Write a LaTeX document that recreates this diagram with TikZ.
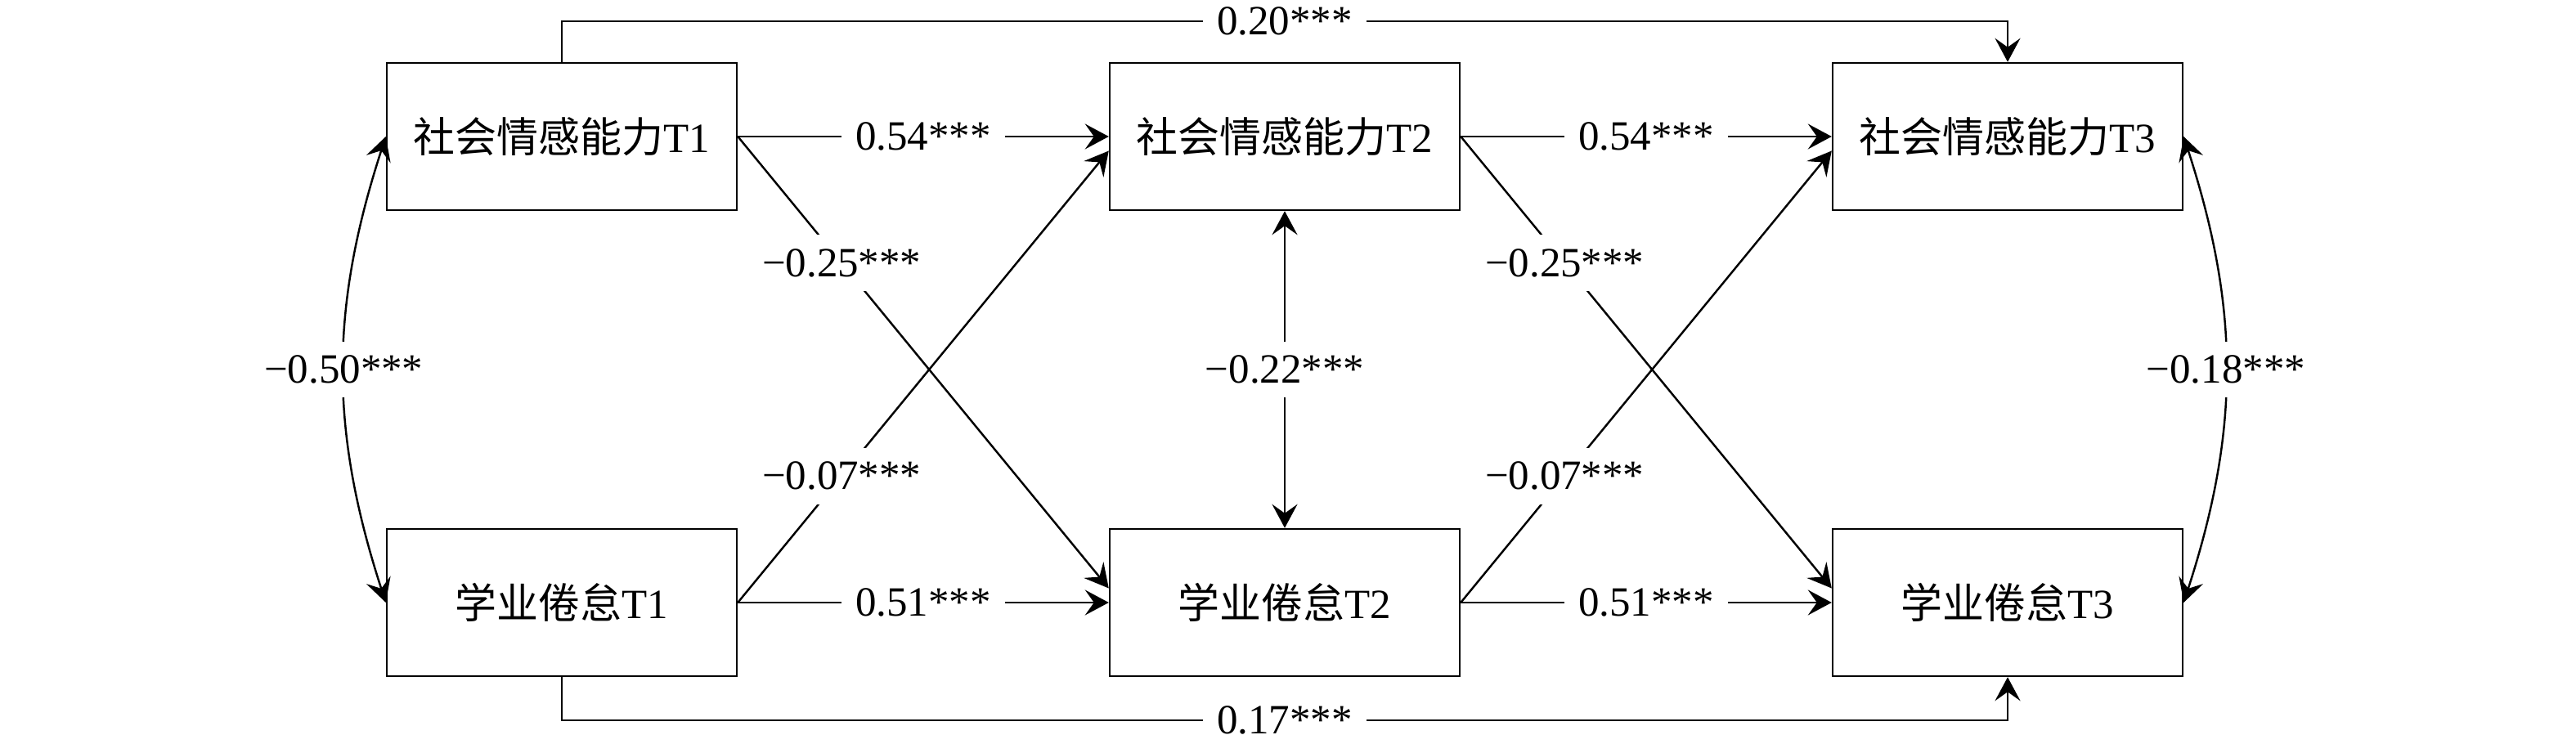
\documentclass[tikz,border=0pt]{standalone}
\usepackage{fontspec}
\setmainfont{Liberation Serif}
\newfontfamily\cjk{Noto Sans CJK SC}
\usetikzlibrary{arrows.meta}
\tikzstyle{box}=[draw,minimum width=4.28cm,minimum height=1.8cm,inner sep=0pt]
\tikzstyle{coef}=[fill=white,inner sep=1.7mm]

\begin{document}
\begin{tikzpicture}[node distance=8.84cm,line width=0.7pt,>={Stealth[length=2.9mm,width=3.1mm,inset=1.1mm]},font=\fontsize{14.5pt}{17pt}\selectfont]
	\useasboundingbox (0,0) rectangle (31.5,-9.1);
	\node(a1)[box] at (6.87,-1.67){{\cjk 社会情感能力}T1};
	\node(a2)[box,right of=a1]{{\cjk 社会情感能力}T2};
	\node(a3)[box,right of=a2]{{\cjk 社会情感能力}T3};
	\node(b1)[box,below of=a1,node distance=5.7cm]{{\cjk 学业倦怠}T1};
	\node(b2)[box,right of=b1]{{\cjk 学业倦怠}T2};
	\node(b3)[box,right of=b2]{{\cjk 学业倦怠}T3};

	\path[->]       (a1) edge node[coef]{0.54***} (a2)
	                (a2) edge node[coef]{0.54***} (a3)
	                (b1) edge node[coef]{0.51***} (b2)
	                (b2) edge node[coef]{0.51***} (b3)
	                (a1.east) edge node[coef,pos=0.28]{−0.25***} ([yshift=1.75mm]b2.west)
	                (b1.east) edge node[coef,pos=0.28]{−0.07***} ([yshift=-1.75mm]a2.west)
	                (a2.east) edge node[coef,pos=0.28]{−0.25***} ([yshift=1.75mm]b3.west)
	                (b2.east) edge node[coef,pos=0.28]{−0.07***} ([yshift=-1.75mm]a3.west);
	\path[<->]      (a2) edge node[coef]{−0.22***} (b2)
	                (a1.west) edge[bend right=18] node[coef]{−0.50***} (b1.west)
	                (a3.east) edge[bend left=18] node[coef]{−0.18***} (b3.east);
	\draw[->] (a1.north) -- ++(0,0.5) -| node[coef,pos=0.25]{0.20***} (a3.north);
	\draw[->] (b1.south) -- ++(0,-0.53) -| node[coef,pos=0.25]{0.17***} (b3.south);
\end{tikzpicture}
\end{document}
